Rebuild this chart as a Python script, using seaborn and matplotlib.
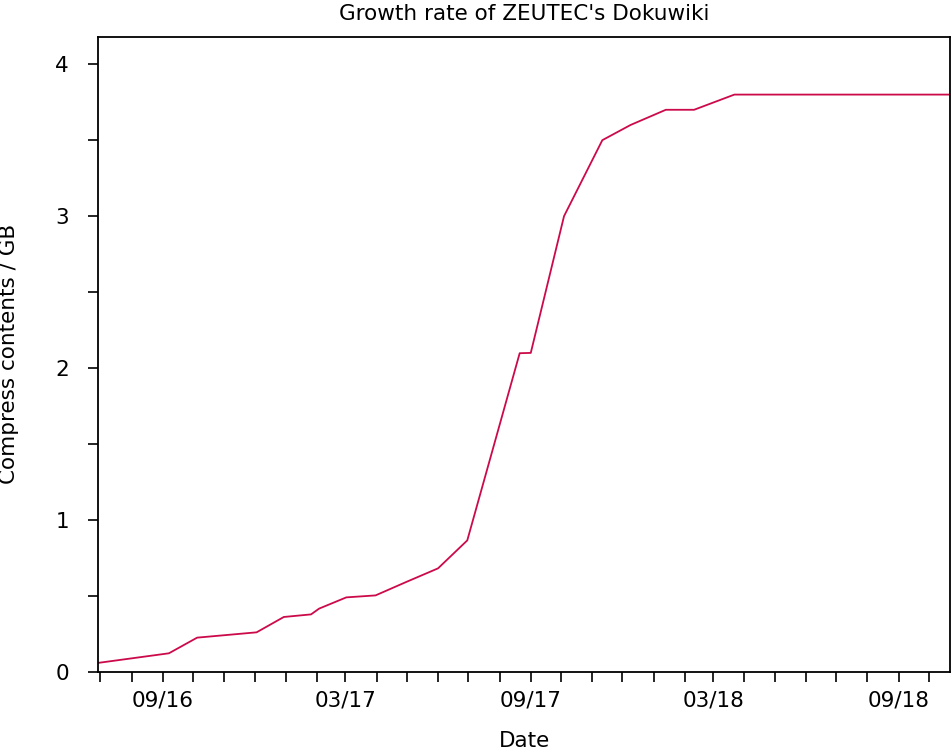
import pandas as pd
import numpy as np
import matplotlib
matplotlib.use('Agg')
import matplotlib.pyplot as plt
import matplotlib.dates as mdates
from matplotlib.ticker import MultipleLocator
import seaborn as sns

# values
dates = ['2016-06-29', '2016-09-07', '2016-10-05', '2016-12-03', '2016-12-30',
         '2017-01-26', '2017-02-03', '2017-03-02', '2017-03-31', '2017-05-01',
         '2017-06-01', '2017-06-30', '2017-08-21', '2017-09-01', '2017-10-04',
         '2017-11-11', '2017-12-09', '2018-01-13', '2018-02-10', '2018-03-22',
         '2018-10-22']
sizes_gb = [0.06, 0.123, 0.226, 0.261, 0.362,
            0.379, 0.417, 0.491, 0.504, 0.594,
            0.682, 0.866, 2.098, 2.10, 3.00,
            3.50, 3.60, 3.70, 3.70, 3.80,
            3.80]

df = pd.DataFrame({'Date': pd.to_datetime(dates), 'Size': sizes_gb})

sns.set_style('ticks')
plt.rcParams['font.family'] = ['DejaVu Sans']
plt.rcParams['text.color'] = 'black'
plt.rcParams['axes.labelcolor'] = 'black'

fig = plt.figure(figsize=(9.52, 7.52), dpi=100)
ax = fig.add_axes([0.1033, 0.1064, 0.8947, 0.8446])

sns.lineplot(data=df, x='Date', y='Size', ax=ax, color='#cc0a4a', linewidth=1.3)

ax.set_xlim(df['Date'].min(), df['Date'].max())
ax.set_ylim(0, df['Size'].max() * 1.1)

ax.xaxis.set_major_locator(mdates.MonthLocator(bymonth=[3, 9]))
ax.xaxis.set_major_formatter(mdates.DateFormatter('%m/%y'))
ax.xaxis.set_minor_locator(mdates.MonthLocator())
ax.yaxis.set_major_locator(MultipleLocator(1))
ax.yaxis.set_minor_locator(MultipleLocator(0.5))

ax.tick_params(axis='both', which='both', direction='out', length=7, width=1.2,
               labelsize=15.5, top=False, right=False, colors='black')
ax.tick_params(axis='x', which='major', pad=6)
ax.tick_params(axis='y', which='major', pad=14)
for s in ax.spines.values():
    s.set_linewidth(1.3)
    s.set_color('black')

ax.set_title("Growth rate of ZEUTEC's Dokuwiki", fontsize=15.5, pad=12, color='black')
ax.set_xlabel('Date', fontsize=15.5, labelpad=15)
ax.set_ylabel('Compress contents / GB', fontsize=15.5, labelpad=26)

fig.savefig('out.png', dpi=100)
